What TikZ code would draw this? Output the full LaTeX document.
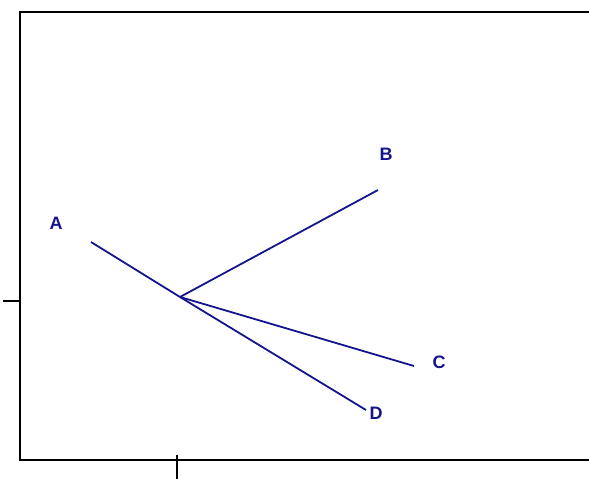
\documentclass[tikz,border=0pt]{standalone}
\usepackage{fontspec}
\setmainfont{Liberation Sans}
\definecolor{navy}{RGB}{20,20,140}
\tikzset{
  ray/.style={draw=navy, line width=1.8pt},
  lbl/.style={text=navy, font=\bfseries\fontsize{18}{18}\selectfont, inner sep=0pt},
  frame/.style={draw=black, line width=1.2pt}
}
\begin{document}
\begin{tikzpicture}[x=1pt,y=-1pt]
\useasboundingbox (0,0) rectangle (589,479);
\draw[frame] (592,12) -- (20,12) -- (20,460) -- (592,460);
\coordinate (lt1) at (3,301);
\coordinate (lt2) at (20,301);
\draw[frame] (lt1) -- (lt2);
\coordinate (bt1) at (177,455);
\coordinate (bt2) at (177,479);
\draw[frame] (bt1) -- (bt2);
\coordinate (o) at (180,297);
\coordinate (a) at (91,242);
\coordinate (b) at (378,190);
\coordinate (c) at (414,366);
\coordinate (d) at (366,410);
\draw[ray] (a) -- (o);
\draw[ray] (o) -- (b);
\draw[ray] (o) -- (c);
\draw[ray] (o) -- (d);
\node[lbl] (la) at (56,223) {A};
\node[lbl] (lb) at (386,154) {B};
\node[lbl] (lc) at (439,362) {C};
\node[lbl] (ld) at (376,413) {D};
\end{tikzpicture}
\end{document}
